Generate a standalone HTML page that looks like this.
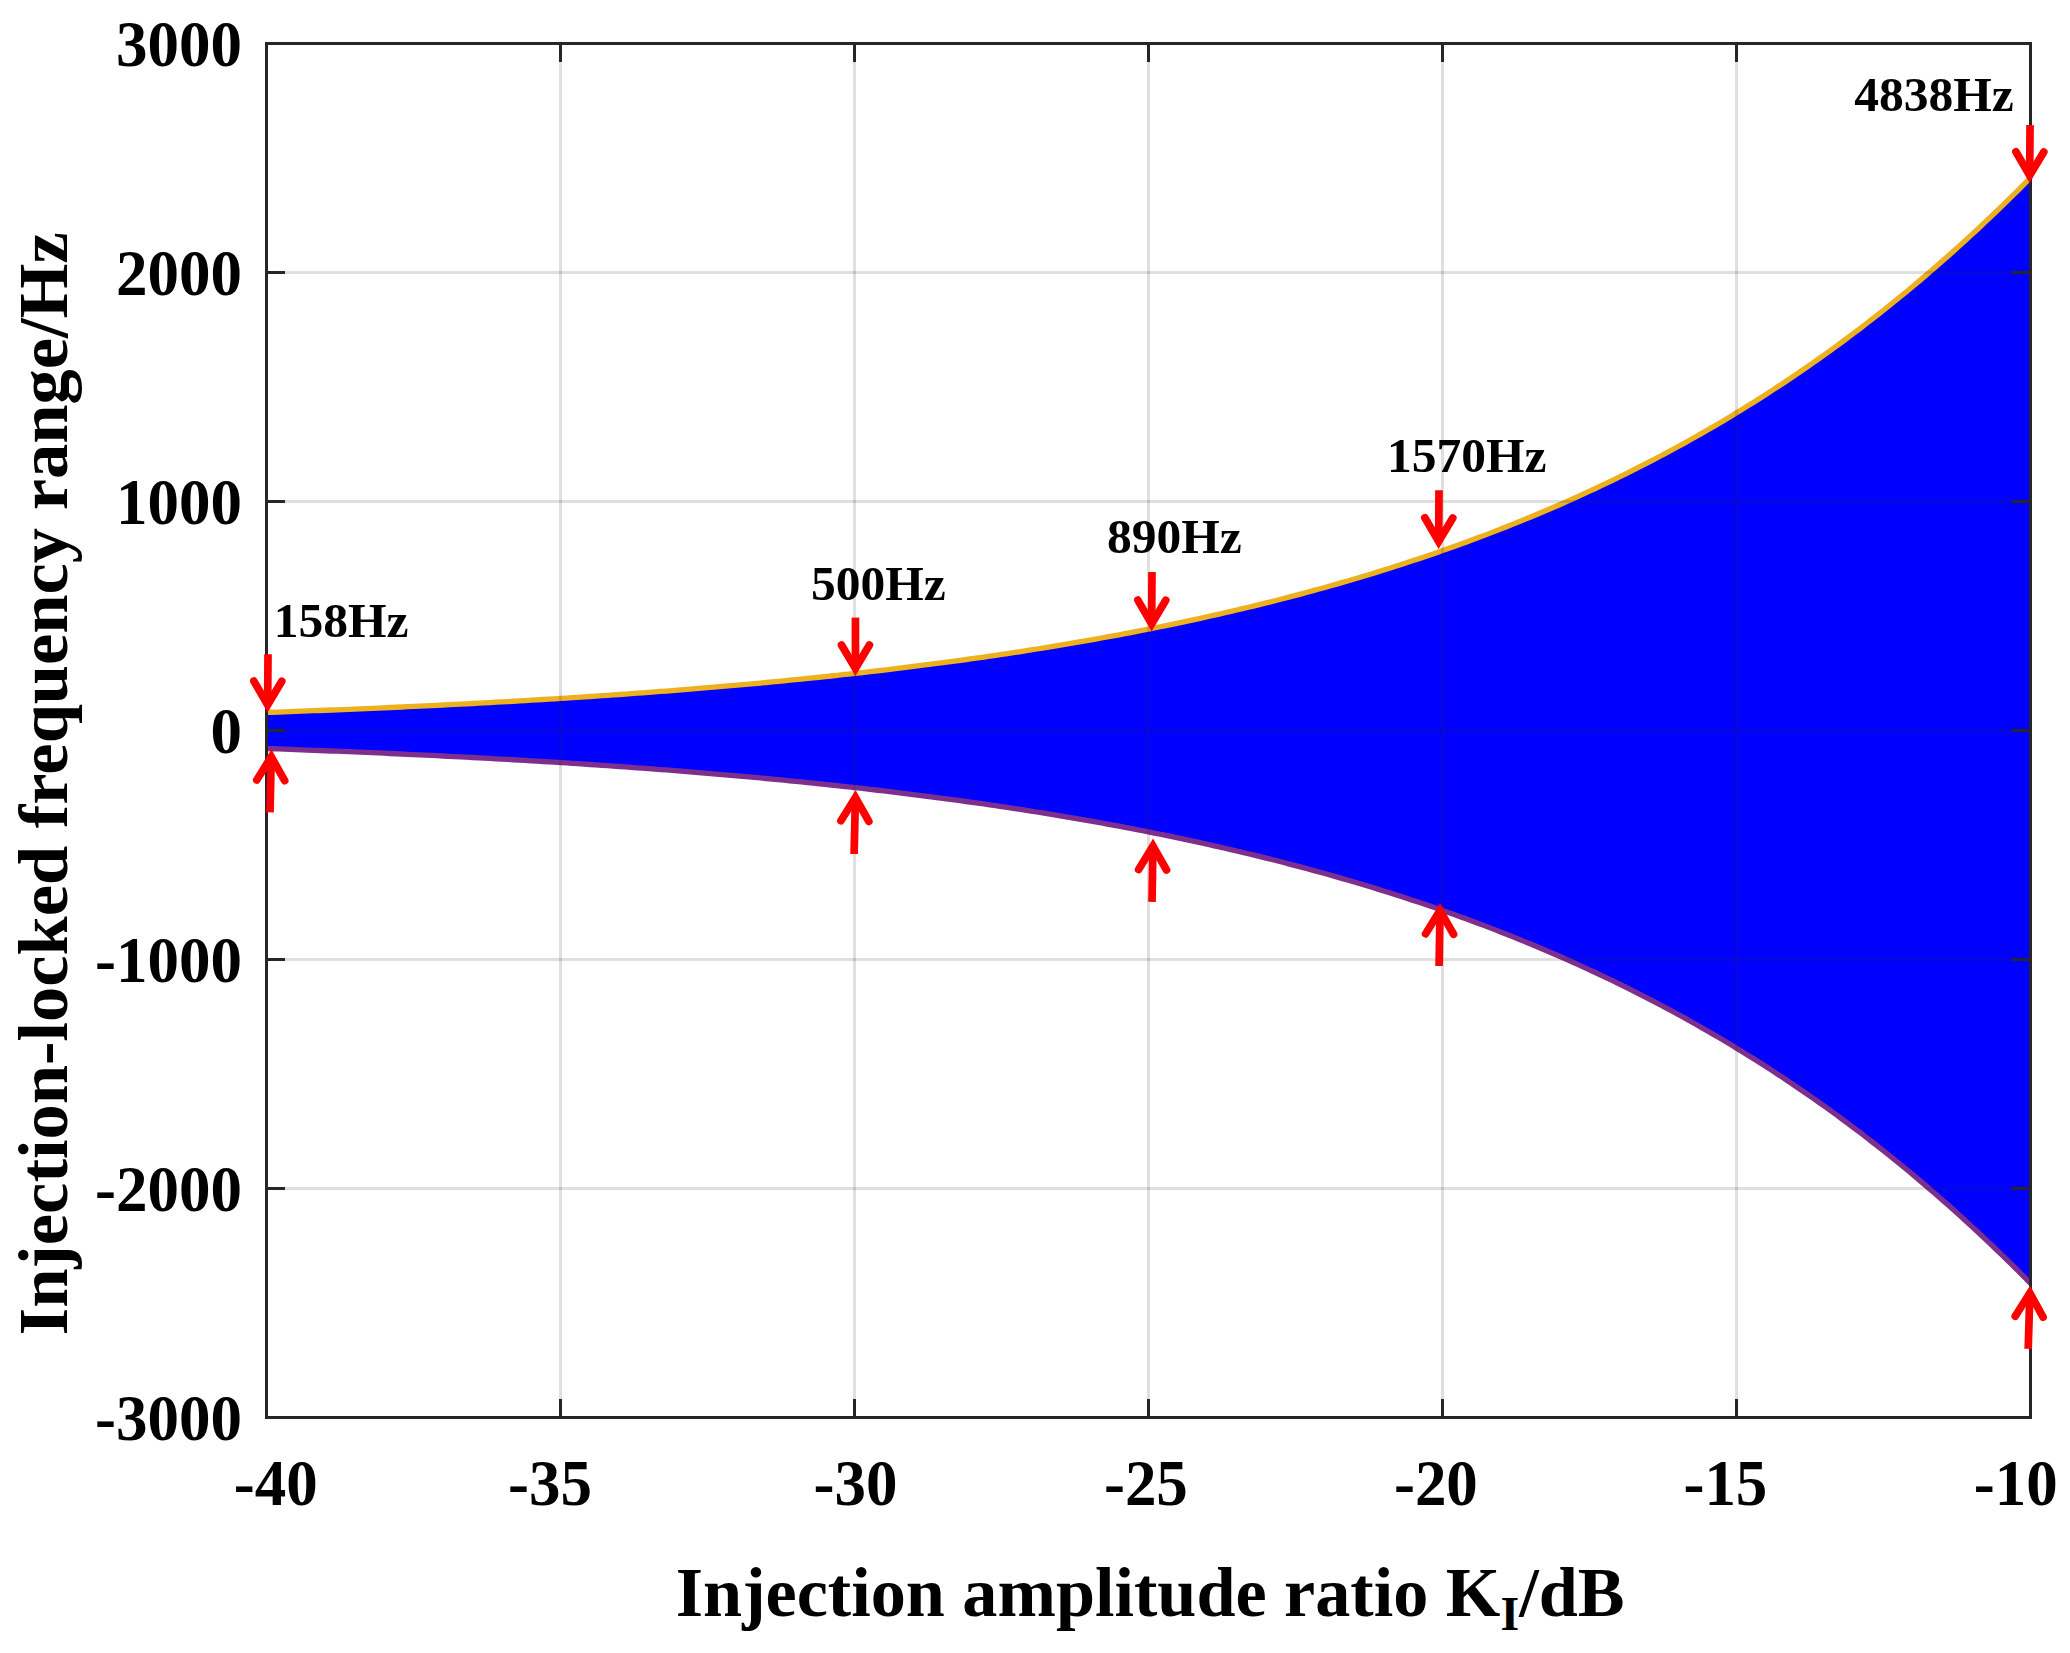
<!DOCTYPE html>
<html><head><meta charset="utf-8"><title>Injection-locked frequency range</title>
<style>html,body{margin:0;padding:0;background:#fff;overflow:hidden}svg{display:block}text{font-family:"Liberation Serif","Times New Roman",serif;font-weight:bold;fill:#000}</style></head><body>
<svg width="2070" height="1653" viewBox="0 0 2070 1653">
<rect width="2070" height="1653" fill="#fff"/>
<defs><clipPath id="ax"><rect x="266.5" y="43.5" width="1764.0" height="1374.0"/></clipPath></defs>
<g clip-path="url(#ax)">
<polygon points="266.50,712.45 272.38,712.24 278.26,712.03 284.14,711.82 290.02,711.60 295.90,711.38 301.78,711.16 307.66,710.94 313.54,710.71 319.42,710.48 325.30,710.25 331.18,710.01 337.06,709.78 342.94,709.54 348.82,709.29 354.70,709.05 360.58,708.80 366.46,708.55 372.34,708.30 378.22,708.04 384.10,707.78 389.98,707.51 395.86,707.25 401.74,706.98 407.62,706.71 413.50,706.43 419.38,706.15 425.26,705.87 431.14,705.59 437.02,705.30 442.90,705.01 448.78,704.71 454.66,704.41 460.54,704.11 466.42,703.80 472.30,703.50 478.18,703.18 484.06,702.87 489.94,702.55 495.82,702.22 501.70,701.90 507.58,701.56 513.46,701.23 519.34,700.89 525.22,700.55 531.10,700.20 536.98,699.85 542.86,699.50 548.74,699.14 554.62,698.77 560.50,698.41 566.38,698.03 572.26,697.66 578.14,697.28 584.02,696.89 589.90,696.50 595.78,696.11 601.66,695.71 607.54,695.31 613.42,694.90 619.30,694.49 625.18,694.07 631.06,693.65 636.94,693.23 642.82,692.79 648.70,692.36 654.58,691.92 660.46,691.47 666.34,691.02 672.22,690.56 678.10,690.10 683.98,689.63 689.86,689.16 695.74,688.68 701.62,688.19 707.50,687.71 713.38,687.21 719.26,686.71 725.14,686.20 731.02,685.69 736.90,685.17 742.78,684.65 748.66,684.12 754.54,683.58 760.42,683.04 766.30,682.49 772.18,681.93 778.06,681.37 783.94,680.80 789.82,680.22 795.70,679.64 801.58,679.05 807.46,678.46 813.34,677.86 819.22,677.25 825.10,676.63 830.98,676.01 836.86,675.38 842.74,674.74 848.62,674.09 854.50,673.44 860.38,672.78 866.26,672.11 872.14,671.44 878.02,670.75 883.90,670.06 889.78,669.36 895.66,668.66 901.54,667.94 907.42,667.22 913.30,666.48 919.18,665.74 925.06,664.99 930.94,664.24 936.82,663.47 942.70,662.69 948.58,661.91 954.46,661.12 960.34,660.31 966.22,659.50 972.10,658.68 977.98,657.85 983.86,657.01 989.74,656.16 995.62,655.30 1001.50,654.43 1007.38,653.55 1013.26,652.66 1019.14,651.76 1025.02,650.85 1030.90,649.93 1036.78,649.00 1042.66,648.05 1048.54,647.10 1054.42,646.14 1060.30,645.16 1066.18,644.17 1072.06,643.18 1077.94,642.17 1083.82,641.15 1089.70,640.11 1095.58,639.07 1101.46,638.01 1107.34,636.94 1113.22,635.86 1119.10,634.77 1124.98,633.66 1130.86,632.54 1136.74,631.41 1142.62,630.26 1148.50,629.11 1154.38,627.93 1160.26,626.75 1166.14,625.55 1172.02,624.34 1177.90,623.11 1183.78,621.87 1189.66,620.62 1195.54,619.35 1201.42,618.06 1207.30,616.76 1213.18,615.45 1219.06,614.12 1224.94,612.78 1230.82,611.42 1236.70,610.04 1242.58,608.65 1248.46,607.25 1254.34,605.82 1260.22,604.39 1266.10,602.93 1271.98,601.46 1277.86,599.97 1283.74,598.46 1289.62,596.94 1295.50,595.40 1301.38,593.84 1307.26,592.26 1313.14,590.67 1319.02,589.06 1324.90,587.43 1330.78,585.78 1336.66,584.11 1342.54,582.42 1348.42,580.71 1354.30,578.99 1360.18,577.24 1366.06,575.47 1371.94,573.69 1377.82,571.88 1383.70,570.06 1389.58,568.21 1395.46,566.34 1401.34,564.45 1407.22,562.54 1413.10,560.60 1418.98,558.65 1424.86,556.67 1430.74,554.67 1436.62,552.65 1442.50,550.60 1448.38,548.53 1454.26,546.44 1460.14,544.32 1466.02,542.18 1471.90,540.02 1477.78,537.83 1483.66,535.61 1489.54,533.38 1495.42,531.11 1501.30,528.82 1507.18,526.51 1513.06,524.16 1518.94,521.80 1524.82,519.40 1530.70,516.98 1536.58,514.53 1542.46,512.05 1548.34,509.55 1554.22,507.02 1560.10,504.46 1565.98,501.87 1571.86,499.25 1577.74,496.60 1583.62,493.92 1589.50,491.21 1595.38,488.48 1601.26,485.71 1607.14,482.91 1613.02,480.08 1618.90,477.22 1624.78,474.32 1630.66,471.40 1636.54,468.44 1642.42,465.45 1648.30,462.42 1654.18,459.36 1660.06,456.27 1665.94,453.15 1671.82,449.99 1677.70,446.79 1683.58,443.56 1689.46,440.29 1695.34,436.99 1701.22,433.65 1707.10,430.28 1712.98,426.87 1718.86,423.42 1724.74,419.93 1730.62,416.41 1736.50,412.85 1742.38,409.24 1748.26,405.60 1754.14,401.92 1760.02,398.20 1765.90,394.44 1771.78,390.64 1777.66,386.80 1783.54,382.92 1789.42,378.99 1795.30,375.03 1801.18,371.02 1807.06,366.97 1812.94,362.87 1818.82,358.73 1824.70,354.55 1830.58,350.33 1836.46,346.06 1842.34,341.74 1848.22,337.38 1854.10,332.97 1859.98,328.52 1865.86,324.02 1871.74,319.47 1877.62,314.88 1883.50,310.24 1889.38,305.55 1895.26,300.81 1901.14,296.02 1907.02,291.19 1912.90,286.30 1918.78,281.37 1924.66,276.38 1930.54,271.34 1936.42,266.26 1942.30,261.12 1948.18,255.93 1954.06,250.69 1959.94,245.40 1965.82,240.05 1971.70,234.65 1977.58,229.20 1983.46,223.69 1989.34,218.13 1995.22,212.52 2001.10,206.85 2006.98,201.12 2012.86,195.35 2018.74,189.51 2024.62,183.62 2030.50,177.68 2030.50,1283.32 2024.62,1277.38 2018.74,1271.49 2012.86,1265.65 2006.98,1259.88 2001.10,1254.15 1995.22,1248.48 1989.34,1242.87 1983.46,1237.31 1977.58,1231.80 1971.70,1226.35 1965.82,1220.95 1959.94,1215.60 1954.06,1210.31 1948.18,1205.07 1942.30,1199.88 1936.42,1194.74 1930.54,1189.66 1924.66,1184.62 1918.78,1179.63 1912.90,1174.70 1907.02,1169.81 1901.14,1164.98 1895.26,1160.19 1889.38,1155.45 1883.50,1150.76 1877.62,1146.12 1871.74,1141.53 1865.86,1136.98 1859.98,1132.48 1854.10,1128.03 1848.22,1123.62 1842.34,1119.26 1836.46,1114.94 1830.58,1110.67 1824.70,1106.45 1818.82,1102.27 1812.94,1098.13 1807.06,1094.03 1801.18,1089.98 1795.30,1085.97 1789.42,1082.01 1783.54,1078.08 1777.66,1074.20 1771.78,1070.36 1765.90,1066.56 1760.02,1062.80 1754.14,1059.08 1748.26,1055.40 1742.38,1051.76 1736.50,1048.15 1730.62,1044.59 1724.74,1041.07 1718.86,1037.58 1712.98,1034.13 1707.10,1030.72 1701.22,1027.35 1695.34,1024.01 1689.46,1020.71 1683.58,1017.44 1677.70,1014.21 1671.82,1011.01 1665.94,1007.85 1660.06,1004.73 1654.18,1001.64 1648.30,998.58 1642.42,995.55 1636.54,992.56 1630.66,989.60 1624.78,986.68 1618.90,983.78 1613.02,980.92 1607.14,978.09 1601.26,975.29 1595.38,972.52 1589.50,969.79 1583.62,967.08 1577.74,964.40 1571.86,961.75 1565.98,959.13 1560.10,956.54 1554.22,953.98 1548.34,951.45 1542.46,948.95 1536.58,946.47 1530.70,944.02 1524.82,941.60 1518.94,939.20 1513.06,936.84 1507.18,934.49 1501.30,932.18 1495.42,929.89 1489.54,927.62 1483.66,925.39 1477.78,923.17 1471.90,920.98 1466.02,918.82 1460.14,916.68 1454.26,914.56 1448.38,912.47 1442.50,910.40 1436.62,908.35 1430.74,906.33 1424.86,904.33 1418.98,902.35 1413.10,900.40 1407.22,898.46 1401.34,896.55 1395.46,894.66 1389.58,892.79 1383.70,890.94 1377.82,889.12 1371.94,887.31 1366.06,885.53 1360.18,883.76 1354.30,882.01 1348.42,880.29 1342.54,878.58 1336.66,876.89 1330.78,875.22 1324.90,873.57 1319.02,871.94 1313.14,870.33 1307.26,868.74 1301.38,867.16 1295.50,865.60 1289.62,864.06 1283.74,862.54 1277.86,861.03 1271.98,859.54 1266.10,858.07 1260.22,856.61 1254.34,855.18 1248.46,853.75 1242.58,852.35 1236.70,850.96 1230.82,849.58 1224.94,848.22 1219.06,846.88 1213.18,845.55 1207.30,844.24 1201.42,842.94 1195.54,841.65 1189.66,840.38 1183.78,839.13 1177.90,837.89 1172.02,836.66 1166.14,835.45 1160.26,834.25 1154.38,833.07 1148.50,831.89 1142.62,830.74 1136.74,829.59 1130.86,828.46 1124.98,827.34 1119.10,826.23 1113.22,825.14 1107.34,824.06 1101.46,822.99 1095.58,821.93 1089.70,820.89 1083.82,819.85 1077.94,818.83 1072.06,817.82 1066.18,816.83 1060.30,815.84 1054.42,814.86 1048.54,813.90 1042.66,812.95 1036.78,812.00 1030.90,811.07 1025.02,810.15 1019.14,809.24 1013.26,808.34 1007.38,807.45 1001.50,806.57 995.62,805.70 989.74,804.84 983.86,803.99 977.98,803.15 972.10,802.32 966.22,801.50 960.34,800.69 954.46,799.88 948.58,799.09 942.70,798.31 936.82,797.53 930.94,796.76 925.06,796.01 919.18,795.26 913.30,794.52 907.42,793.78 901.54,793.06 895.66,792.34 889.78,791.64 883.90,790.94 878.02,790.25 872.14,789.56 866.26,788.89 860.38,788.22 854.50,787.56 848.62,786.91 842.74,786.26 836.86,785.62 830.98,784.99 825.10,784.37 819.22,783.75 813.34,783.14 807.46,782.54 801.58,781.95 795.70,781.36 789.82,780.78 783.94,780.20 778.06,779.63 772.18,779.07 766.30,778.51 760.42,777.96 754.54,777.42 748.66,776.88 742.78,776.35 736.90,775.83 731.02,775.31 725.14,774.80 719.26,774.29 713.38,773.79 707.50,773.29 701.62,772.81 695.74,772.32 689.86,771.84 683.98,771.37 678.10,770.90 672.22,770.44 666.34,769.98 660.46,769.53 654.58,769.08 648.70,768.64 642.82,768.21 636.94,767.77 631.06,767.35 625.18,766.93 619.30,766.51 613.42,766.10 607.54,765.69 601.66,765.29 595.78,764.89 589.90,764.50 584.02,764.11 578.14,763.72 572.26,763.34 566.38,762.97 560.50,762.59 554.62,762.23 548.74,761.86 542.86,761.50 536.98,761.15 531.10,760.80 525.22,760.45 519.34,760.11 513.46,759.77 507.58,759.44 501.70,759.10 495.82,758.78 489.94,758.45 484.06,758.13 478.18,757.82 472.30,757.50 466.42,757.20 460.54,756.89 454.66,756.59 448.78,756.29 442.90,755.99 437.02,755.70 431.14,755.41 425.26,755.13 419.38,754.85 413.50,754.57 407.62,754.29 401.74,754.02 395.86,753.75 389.98,753.49 384.10,753.22 378.22,752.96 372.34,752.70 366.46,752.45 360.58,752.20 354.70,751.95 348.82,751.71 342.94,751.46 337.06,751.22 331.18,750.99 325.30,750.75 319.42,750.52 313.54,750.29 307.66,750.06 301.78,749.84 295.90,749.62 290.02,749.40 284.14,749.18 278.26,748.97 272.38,748.76 266.50,748.55" fill="#0000ff"/>
<polyline points="266.50,712.45 272.38,712.24 278.26,712.03 284.14,711.82 290.02,711.60 295.90,711.38 301.78,711.16 307.66,710.94 313.54,710.71 319.42,710.48 325.30,710.25 331.18,710.01 337.06,709.78 342.94,709.54 348.82,709.29 354.70,709.05 360.58,708.80 366.46,708.55 372.34,708.30 378.22,708.04 384.10,707.78 389.98,707.51 395.86,707.25 401.74,706.98 407.62,706.71 413.50,706.43 419.38,706.15 425.26,705.87 431.14,705.59 437.02,705.30 442.90,705.01 448.78,704.71 454.66,704.41 460.54,704.11 466.42,703.80 472.30,703.50 478.18,703.18 484.06,702.87 489.94,702.55 495.82,702.22 501.70,701.90 507.58,701.56 513.46,701.23 519.34,700.89 525.22,700.55 531.10,700.20 536.98,699.85 542.86,699.50 548.74,699.14 554.62,698.77 560.50,698.41 566.38,698.03 572.26,697.66 578.14,697.28 584.02,696.89 589.90,696.50 595.78,696.11 601.66,695.71 607.54,695.31 613.42,694.90 619.30,694.49 625.18,694.07 631.06,693.65 636.94,693.23 642.82,692.79 648.70,692.36 654.58,691.92 660.46,691.47 666.34,691.02 672.22,690.56 678.10,690.10 683.98,689.63 689.86,689.16 695.74,688.68 701.62,688.19 707.50,687.71 713.38,687.21 719.26,686.71 725.14,686.20 731.02,685.69 736.90,685.17 742.78,684.65 748.66,684.12 754.54,683.58 760.42,683.04 766.30,682.49 772.18,681.93 778.06,681.37 783.94,680.80 789.82,680.22 795.70,679.64 801.58,679.05 807.46,678.46 813.34,677.86 819.22,677.25 825.10,676.63 830.98,676.01 836.86,675.38 842.74,674.74 848.62,674.09 854.50,673.44 860.38,672.78 866.26,672.11 872.14,671.44 878.02,670.75 883.90,670.06 889.78,669.36 895.66,668.66 901.54,667.94 907.42,667.22 913.30,666.48 919.18,665.74 925.06,664.99 930.94,664.24 936.82,663.47 942.70,662.69 948.58,661.91 954.46,661.12 960.34,660.31 966.22,659.50 972.10,658.68 977.98,657.85 983.86,657.01 989.74,656.16 995.62,655.30 1001.50,654.43 1007.38,653.55 1013.26,652.66 1019.14,651.76 1025.02,650.85 1030.90,649.93 1036.78,649.00 1042.66,648.05 1048.54,647.10 1054.42,646.14 1060.30,645.16 1066.18,644.17 1072.06,643.18 1077.94,642.17 1083.82,641.15 1089.70,640.11 1095.58,639.07 1101.46,638.01 1107.34,636.94 1113.22,635.86 1119.10,634.77 1124.98,633.66 1130.86,632.54 1136.74,631.41 1142.62,630.26 1148.50,629.11 1154.38,627.93 1160.26,626.75 1166.14,625.55 1172.02,624.34 1177.90,623.11 1183.78,621.87 1189.66,620.62 1195.54,619.35 1201.42,618.06 1207.30,616.76 1213.18,615.45 1219.06,614.12 1224.94,612.78 1230.82,611.42 1236.70,610.04 1242.58,608.65 1248.46,607.25 1254.34,605.82 1260.22,604.39 1266.10,602.93 1271.98,601.46 1277.86,599.97 1283.74,598.46 1289.62,596.94 1295.50,595.40 1301.38,593.84 1307.26,592.26 1313.14,590.67 1319.02,589.06 1324.90,587.43 1330.78,585.78 1336.66,584.11 1342.54,582.42 1348.42,580.71 1354.30,578.99 1360.18,577.24 1366.06,575.47 1371.94,573.69 1377.82,571.88 1383.70,570.06 1389.58,568.21 1395.46,566.34 1401.34,564.45 1407.22,562.54 1413.10,560.60 1418.98,558.65 1424.86,556.67 1430.74,554.67 1436.62,552.65 1442.50,550.60 1448.38,548.53 1454.26,546.44 1460.14,544.32 1466.02,542.18 1471.90,540.02 1477.78,537.83 1483.66,535.61 1489.54,533.38 1495.42,531.11 1501.30,528.82 1507.18,526.51 1513.06,524.16 1518.94,521.80 1524.82,519.40 1530.70,516.98 1536.58,514.53 1542.46,512.05 1548.34,509.55 1554.22,507.02 1560.10,504.46 1565.98,501.87 1571.86,499.25 1577.74,496.60 1583.62,493.92 1589.50,491.21 1595.38,488.48 1601.26,485.71 1607.14,482.91 1613.02,480.08 1618.90,477.22 1624.78,474.32 1630.66,471.40 1636.54,468.44 1642.42,465.45 1648.30,462.42 1654.18,459.36 1660.06,456.27 1665.94,453.15 1671.82,449.99 1677.70,446.79 1683.58,443.56 1689.46,440.29 1695.34,436.99 1701.22,433.65 1707.10,430.28 1712.98,426.87 1718.86,423.42 1724.74,419.93 1730.62,416.41 1736.50,412.85 1742.38,409.24 1748.26,405.60 1754.14,401.92 1760.02,398.20 1765.90,394.44 1771.78,390.64 1777.66,386.80 1783.54,382.92 1789.42,378.99 1795.30,375.03 1801.18,371.02 1807.06,366.97 1812.94,362.87 1818.82,358.73 1824.70,354.55 1830.58,350.33 1836.46,346.06 1842.34,341.74 1848.22,337.38 1854.10,332.97 1859.98,328.52 1865.86,324.02 1871.74,319.47 1877.62,314.88 1883.50,310.24 1889.38,305.55 1895.26,300.81 1901.14,296.02 1907.02,291.19 1912.90,286.30 1918.78,281.37 1924.66,276.38 1930.54,271.34 1936.42,266.26 1942.30,261.12 1948.18,255.93 1954.06,250.69 1959.94,245.40 1965.82,240.05 1971.70,234.65 1977.58,229.20 1983.46,223.69 1989.34,218.13 1995.22,212.52 2001.10,206.85 2006.98,201.12 2012.86,195.35 2018.74,189.51 2024.62,183.62 2030.50,177.68" fill="none" stroke="#edb120" stroke-width="5.3" stroke-linejoin="round"/>
<polyline points="266.50,748.55 272.38,748.76 278.26,748.97 284.14,749.18 290.02,749.40 295.90,749.62 301.78,749.84 307.66,750.06 313.54,750.29 319.42,750.52 325.30,750.75 331.18,750.99 337.06,751.22 342.94,751.46 348.82,751.71 354.70,751.95 360.58,752.20 366.46,752.45 372.34,752.70 378.22,752.96 384.10,753.22 389.98,753.49 395.86,753.75 401.74,754.02 407.62,754.29 413.50,754.57 419.38,754.85 425.26,755.13 431.14,755.41 437.02,755.70 442.90,755.99 448.78,756.29 454.66,756.59 460.54,756.89 466.42,757.20 472.30,757.50 478.18,757.82 484.06,758.13 489.94,758.45 495.82,758.78 501.70,759.10 507.58,759.44 513.46,759.77 519.34,760.11 525.22,760.45 531.10,760.80 536.98,761.15 542.86,761.50 548.74,761.86 554.62,762.23 560.50,762.59 566.38,762.97 572.26,763.34 578.14,763.72 584.02,764.11 589.90,764.50 595.78,764.89 601.66,765.29 607.54,765.69 613.42,766.10 619.30,766.51 625.18,766.93 631.06,767.35 636.94,767.77 642.82,768.21 648.70,768.64 654.58,769.08 660.46,769.53 666.34,769.98 672.22,770.44 678.10,770.90 683.98,771.37 689.86,771.84 695.74,772.32 701.62,772.81 707.50,773.29 713.38,773.79 719.26,774.29 725.14,774.80 731.02,775.31 736.90,775.83 742.78,776.35 748.66,776.88 754.54,777.42 760.42,777.96 766.30,778.51 772.18,779.07 778.06,779.63 783.94,780.20 789.82,780.78 795.70,781.36 801.58,781.95 807.46,782.54 813.34,783.14 819.22,783.75 825.10,784.37 830.98,784.99 836.86,785.62 842.74,786.26 848.62,786.91 854.50,787.56 860.38,788.22 866.26,788.89 872.14,789.56 878.02,790.25 883.90,790.94 889.78,791.64 895.66,792.34 901.54,793.06 907.42,793.78 913.30,794.52 919.18,795.26 925.06,796.01 930.94,796.76 936.82,797.53 942.70,798.31 948.58,799.09 954.46,799.88 960.34,800.69 966.22,801.50 972.10,802.32 977.98,803.15 983.86,803.99 989.74,804.84 995.62,805.70 1001.50,806.57 1007.38,807.45 1013.26,808.34 1019.14,809.24 1025.02,810.15 1030.90,811.07 1036.78,812.00 1042.66,812.95 1048.54,813.90 1054.42,814.86 1060.30,815.84 1066.18,816.83 1072.06,817.82 1077.94,818.83 1083.82,819.85 1089.70,820.89 1095.58,821.93 1101.46,822.99 1107.34,824.06 1113.22,825.14 1119.10,826.23 1124.98,827.34 1130.86,828.46 1136.74,829.59 1142.62,830.74 1148.50,831.89 1154.38,833.07 1160.26,834.25 1166.14,835.45 1172.02,836.66 1177.90,837.89 1183.78,839.13 1189.66,840.38 1195.54,841.65 1201.42,842.94 1207.30,844.24 1213.18,845.55 1219.06,846.88 1224.94,848.22 1230.82,849.58 1236.70,850.96 1242.58,852.35 1248.46,853.75 1254.34,855.18 1260.22,856.61 1266.10,858.07 1271.98,859.54 1277.86,861.03 1283.74,862.54 1289.62,864.06 1295.50,865.60 1301.38,867.16 1307.26,868.74 1313.14,870.33 1319.02,871.94 1324.90,873.57 1330.78,875.22 1336.66,876.89 1342.54,878.58 1348.42,880.29 1354.30,882.01 1360.18,883.76 1366.06,885.53 1371.94,887.31 1377.82,889.12 1383.70,890.94 1389.58,892.79 1395.46,894.66 1401.34,896.55 1407.22,898.46 1413.10,900.40 1418.98,902.35 1424.86,904.33 1430.74,906.33 1436.62,908.35 1442.50,910.40 1448.38,912.47 1454.26,914.56 1460.14,916.68 1466.02,918.82 1471.90,920.98 1477.78,923.17 1483.66,925.39 1489.54,927.62 1495.42,929.89 1501.30,932.18 1507.18,934.49 1513.06,936.84 1518.94,939.20 1524.82,941.60 1530.70,944.02 1536.58,946.47 1542.46,948.95 1548.34,951.45 1554.22,953.98 1560.10,956.54 1565.98,959.13 1571.86,961.75 1577.74,964.40 1583.62,967.08 1589.50,969.79 1595.38,972.52 1601.26,975.29 1607.14,978.09 1613.02,980.92 1618.90,983.78 1624.78,986.68 1630.66,989.60 1636.54,992.56 1642.42,995.55 1648.30,998.58 1654.18,1001.64 1660.06,1004.73 1665.94,1007.85 1671.82,1011.01 1677.70,1014.21 1683.58,1017.44 1689.46,1020.71 1695.34,1024.01 1701.22,1027.35 1707.10,1030.72 1712.98,1034.13 1718.86,1037.58 1724.74,1041.07 1730.62,1044.59 1736.50,1048.15 1742.38,1051.76 1748.26,1055.40 1754.14,1059.08 1760.02,1062.80 1765.90,1066.56 1771.78,1070.36 1777.66,1074.20 1783.54,1078.08 1789.42,1082.01 1795.30,1085.97 1801.18,1089.98 1807.06,1094.03 1812.94,1098.13 1818.82,1102.27 1824.70,1106.45 1830.58,1110.67 1836.46,1114.94 1842.34,1119.26 1848.22,1123.62 1854.10,1128.03 1859.98,1132.48 1865.86,1136.98 1871.74,1141.53 1877.62,1146.12 1883.50,1150.76 1889.38,1155.45 1895.26,1160.19 1901.14,1164.98 1907.02,1169.81 1912.90,1174.70 1918.78,1179.63 1924.66,1184.62 1930.54,1189.66 1936.42,1194.74 1942.30,1199.88 1948.18,1205.07 1954.06,1210.31 1959.94,1215.60 1965.82,1220.95 1971.70,1226.35 1977.58,1231.80 1983.46,1237.31 1989.34,1242.87 1995.22,1248.48 2001.10,1254.15 2006.98,1259.88 2012.86,1265.65 2018.74,1271.49 2024.62,1277.38 2030.50,1283.32" fill="none" stroke="#7e2f8e" stroke-width="5.3" stroke-linejoin="round"/>
</g>
<g stroke="#262626" stroke-opacity="0.15" stroke-width="3" fill="none">
<path d="M560.50 43.5 V1417.5"/>
<path d="M854.50 43.5 V1417.5"/>
<path d="M1148.50 43.5 V1417.5"/>
<path d="M1442.50 43.5 V1417.5"/>
<path d="M1736.50 43.5 V1417.5"/>
<path d="M266.5 1188.50 H2030.5"/>
<path d="M266.5 959.50 H2030.5"/>
<path d="M266.5 730.50 H2030.5"/>
<path d="M266.5 501.50 H2030.5"/>
<path d="M266.5 272.50 H2030.5"/>
</g>
<path d="M560.50 1417.5 v-18.5 M560.50 43.5 v18.5 M854.50 1417.5 v-18.5 M854.50 43.5 v18.5 M1148.50 1417.5 v-18.5 M1148.50 43.5 v18.5 M1442.50 1417.5 v-18.5 M1442.50 43.5 v18.5 M1736.50 1417.5 v-18.5 M1736.50 43.5 v18.5 M266.5 1188.50 h18.5 M2030.5 1188.50 h-18.5 M266.5 959.50 h18.5 M2030.5 959.50 h-18.5 M266.5 730.50 h18.5 M2030.5 730.50 h-18.5 M266.5 501.50 h18.5 M2030.5 501.50 h-18.5 M266.5 272.50 h18.5 M2030.5 272.50 h-18.5" stroke="#262626" stroke-width="3" fill="none"/>
<rect x="266.5" y="43.5" width="1764.0" height="1374.0" fill="none" stroke="#262626" stroke-width="3"/>
<g stroke="#ff0000" stroke-width="7.7" fill="none">
<path d="M268.00 654.20 L267.65 704.84" stroke-linecap="butt"/>
<path d="M253.86 681.14 L267.65 704.84 L281.76 681.34" stroke-linecap="round" stroke-linejoin="miter" stroke-miterlimit="10"/>
<path d="M855.45 617.60 L855.45 668.54" stroke-linecap="butt"/>
<path d="M841.50 644.94 L855.45 668.54 L869.40 644.94" stroke-linecap="round" stroke-linejoin="miter" stroke-miterlimit="10"/>
<path d="M1152.00 572.00 L1151.65 623.84" stroke-linecap="butt"/>
<path d="M1137.86 600.15 L1151.65 623.84 L1165.76 600.33" stroke-linecap="round" stroke-linejoin="miter" stroke-miterlimit="10"/>
<path d="M1439.00 490.30 L1438.65 541.44" stroke-linecap="butt"/>
<path d="M1424.86 517.75 L1438.65 541.44 L1452.76 517.94" stroke-linecap="round" stroke-linejoin="miter" stroke-miterlimit="10"/>
<path d="M2030.05 125.10 L2029.66 175.44" stroke-linecap="butt"/>
<path d="M2015.89 151.73 L2029.66 175.44 L2043.79 151.95" stroke-linecap="round" stroke-linejoin="miter" stroke-miterlimit="10"/>
<path d="M270.00 812.30 L271.23 756.76" stroke-linecap="butt"/>
<path d="M284.66 780.66 L271.23 756.76 L256.76 780.04" stroke-linecap="round" stroke-linejoin="miter" stroke-miterlimit="10"/>
<path d="M854.10 854.00 L855.42 797.56" stroke-linecap="butt"/>
<path d="M868.82 821.48 L855.42 797.56 L840.92 820.82" stroke-linecap="round" stroke-linejoin="miter" stroke-miterlimit="10"/>
<path d="M1152.00 901.90 L1152.97 846.16" stroke-linecap="butt"/>
<path d="M1166.51 870.00 L1152.97 846.16 L1138.61 869.51" stroke-linecap="round" stroke-linejoin="miter" stroke-miterlimit="10"/>
<path d="M1439.10 966.00 L1439.98 910.46" stroke-linecap="butt"/>
<path d="M1453.55 934.28 L1439.98 910.46 L1425.66 933.84" stroke-linecap="round" stroke-linejoin="miter" stroke-miterlimit="10"/>
<path d="M2028.20 1348.90 L2029.87 1293.06" stroke-linecap="butt"/>
<path d="M2043.11 1317.06 L2029.87 1293.06 L2015.22 1316.23" stroke-linecap="round" stroke-linejoin="miter" stroke-miterlimit="10"/>
</g>
<g font-size="63">
<text transform="translate(242.0 1440.00) scale(1 1.0254)" text-anchor="end">-3000</text>
<text transform="translate(242.0 1211.00) scale(1 1.0254)" text-anchor="end">-2000</text>
<text transform="translate(242.0 982.00) scale(1 1.0254)" text-anchor="end">-1000</text>
<text transform="translate(242.0 753.00) scale(1 1.0254)" text-anchor="end">0</text>
<text transform="translate(242.0 524.00) scale(1 1.0254)" text-anchor="end">1000</text>
<text transform="translate(242.0 295.00) scale(1 1.0254)" text-anchor="end">2000</text>
<text transform="translate(242.0 66.00) scale(1 1.0254)" text-anchor="end">3000</text>
<text transform="translate(233.70 1504.5) scale(1 1.0254)">-40</text>
<text transform="translate(508.10 1504.5) scale(1 1.0254)">-35</text>
<text transform="translate(813.60 1504.5) scale(1 1.0254)">-30</text>
<text transform="translate(1103.90 1504.5) scale(1 1.0254)">-25</text>
<text transform="translate(1393.90 1504.5) scale(1 1.0254)">-20</text>
<text transform="translate(1683.40 1504.5) scale(1 1.0254)">-15</text>
<text transform="translate(1973.80 1504.5) scale(1 1.0254)">-10</text>
</g>
<g font-size="49.5">
<text x="273.70" y="636.7">158Hz</text>
<text x="810.90" y="599.8">500Hz</text>
<text x="1106.90" y="552.8">890Hz</text>
<text x="1386.90" y="471.8">1570Hz</text>
<text x="1854.20" y="110.5">4838Hz</text>
</g>
<text x="675.8" y="1616" font-size="70.2">Injection amplitude ratio K<tspan font-size="48" dy="14">I</tspan><tspan dy="-14">/dB</tspan></text>
<text transform="translate(66.8 1335.3) rotate(-90)" font-size="70.52">Injection-locked frequency range/Hz</text>
</svg></body></html>
